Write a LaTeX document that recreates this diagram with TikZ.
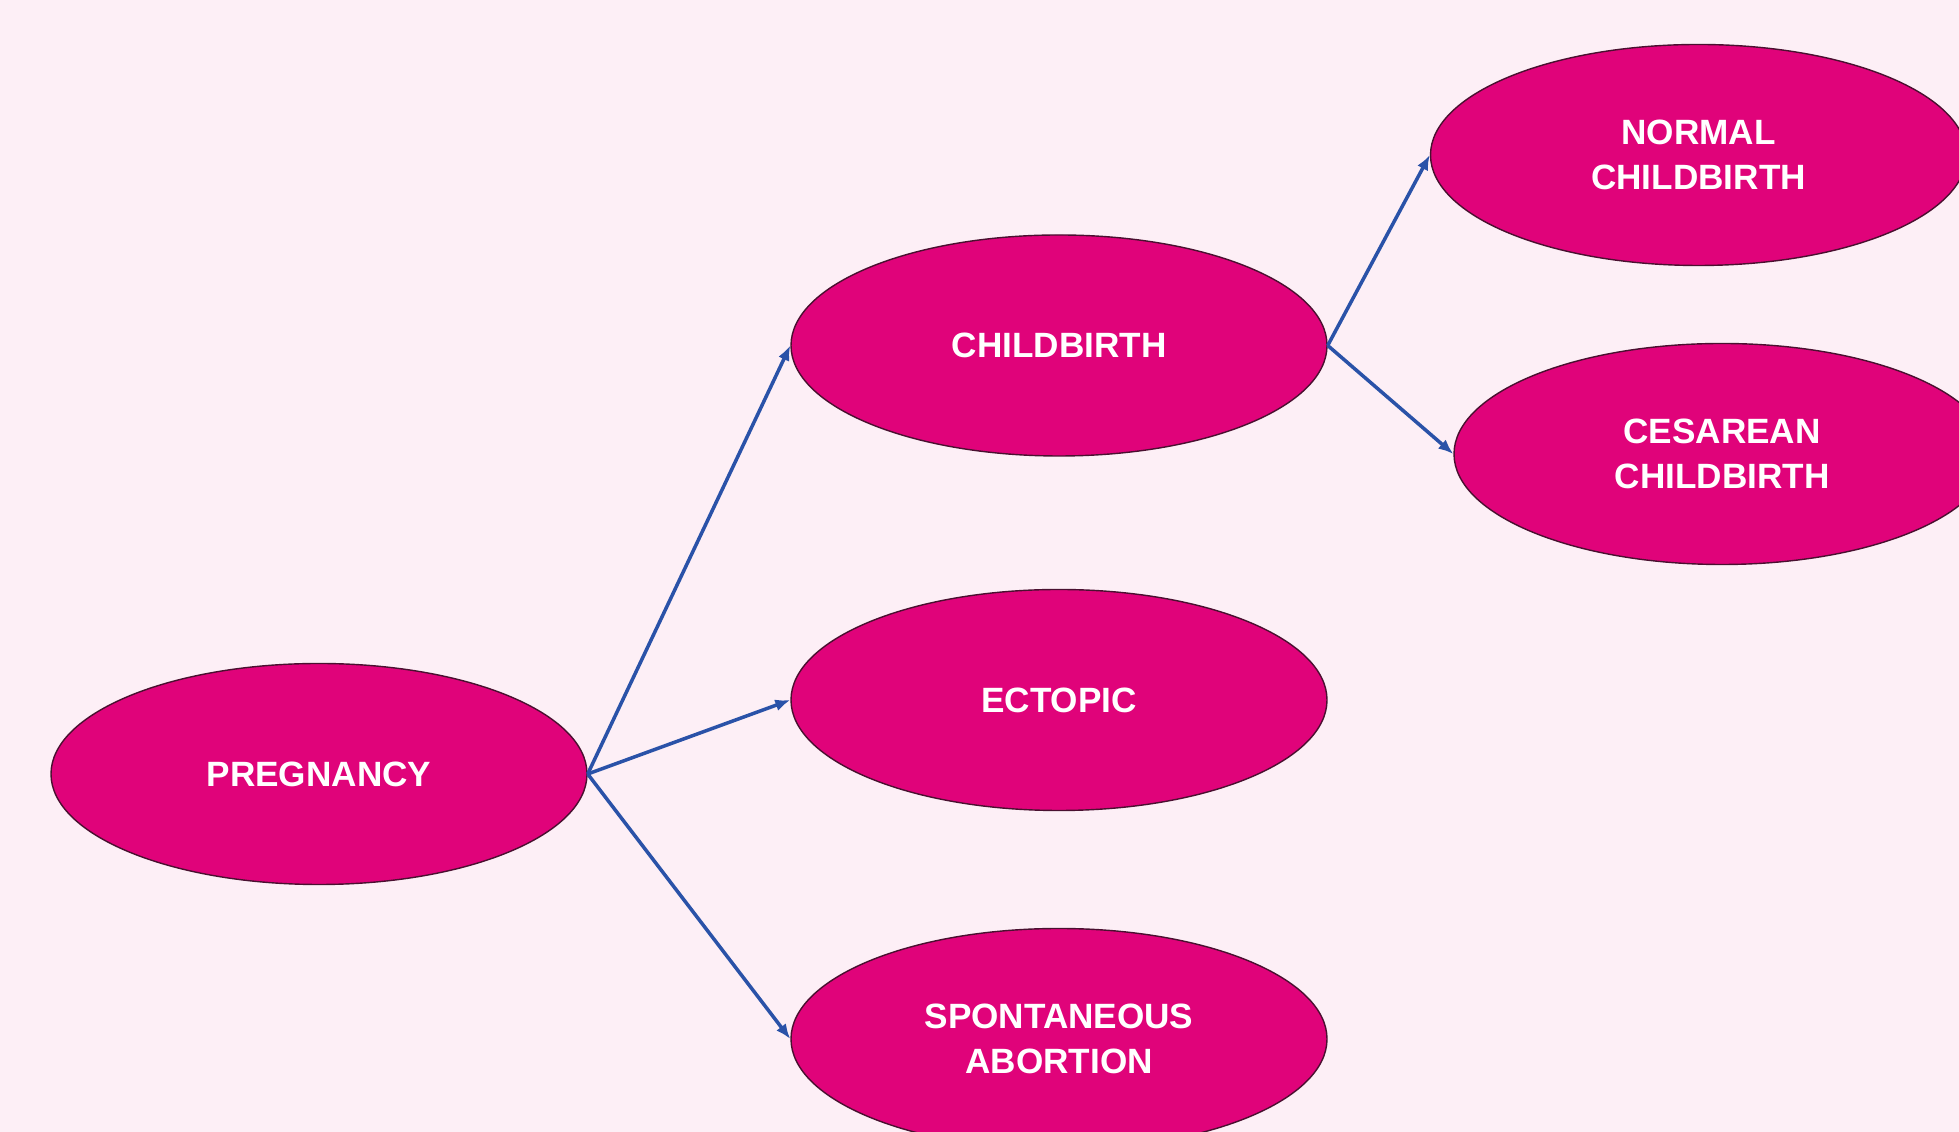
\documentclass[tikz,border=0pt]{standalone}
\usepackage{fontspec}
\setmainfont{Liberation Sans}
\usepackage{tikz}
\usetikzlibrary{shapes,arrows,arrows.meta}

\definecolor{bgpink}{HTML}{FDEFF6}
\definecolor{ovalfill}{HTML}{E0037A}
\definecolor{ovalline}{HTML}{4A1030}
\definecolor{arrowblue}{HTML}{2A52A8}

\begin{document}
\begin{tikzpicture}[
    oval/.style={ellipse, draw=ovalline, line width=0.8pt, fill=ovalfill,
        minimum width=10.72cm, minimum height=4.42cm, inner sep=0pt,
        text=white, align=center,
        font=\fontsize{20}{26}\selectfont\bfseries},
    link/.style={draw=arrowblue, line width=2pt,
        -{Latex[length=0.3cm,width=0.24cm]}}
]
    % background and frame
    \fill[bgpink] (0,0) rectangle (39.18,22.64);
    \useasboundingbox (0,0) rectangle (39.18,22.64);

    % first level
    \node[oval] (preg) at (6.38,7.16) {PREGNANCY};

    % second level
    \node[oval] (child) at (21.18,15.73) {CHILDBIRTH};
    \node[oval] (ecto)  at (21.18,8.64)  {ECTOPIC};
    \node[oval] (abort) at (21.18,1.86)  {SPONTANEOUS\\ABORTION};

    % third level
    \node[oval] (normal) at (33.97,19.54) {NORMAL\\CHILDBIRTH};
    \node[oval] (cesar)  at (34.44,13.56) {CESAREAN\\CHILDBIRTH};

    % arrows
    \draw[link] (preg.east) -- (child.west);
    \draw[link] (preg.east) -- (ecto.west);
    \draw[link] (preg.east) -- (abort.west);
    \draw[link] (child.east) -- (normal.west);
    \draw[link] (child.east) -- (cesar.west);

\end{tikzpicture}
\end{document}
